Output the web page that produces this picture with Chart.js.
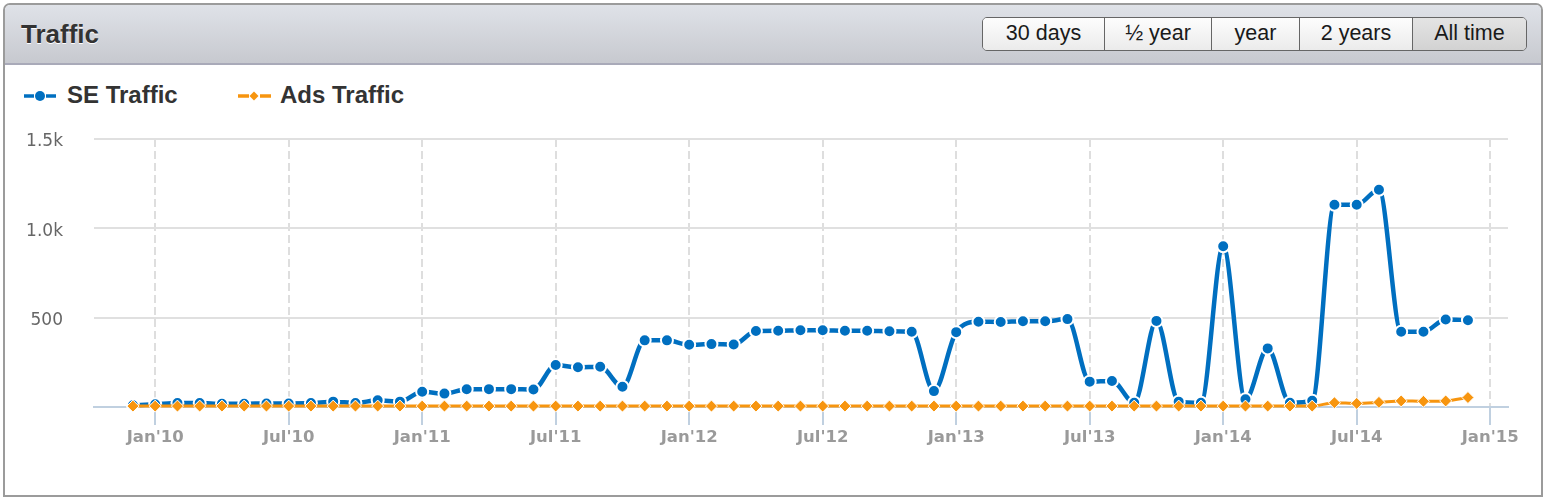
<!DOCTYPE html>
<html>
<head>
<meta charset="utf-8">
<script src="https://cdn.jsdelivr.net/npm/chart.js@4/dist/chart.umd.min.js"></script>
<style>
  html, body { margin: 0; padding: 0; background: #fff; }
  body { width: 1546px; height: 498px; position: relative; overflow: hidden; font-family: "Liberation Sans", Arial, sans-serif; }
  .panel {
    position: absolute; left: 3px; top: 3px; width: 1540px; height: 494px;
    box-sizing: border-box; border: 2px solid #9b9b9b;
    border-radius: 7px 7px 0 0; background: #fff;
  }
  .head {
    position: absolute; left: 0; top: 0; right: 0; height: 58px;
    background: linear-gradient(#dfe2e8, #c7c9cf);
    border-bottom: 2px solid #a9aab9; border-radius: 5px 5px 0 0;
  }
  .title {
    position: absolute; left: 21px; top: 21px; font-size: 26px; line-height: 26px;
    font-weight: bold; color: #333; text-shadow: 0 1px 0 #fff;
  }
  .btns {
    position: absolute; left: 982px; top: 17px; height: 34px; display: flex;
    box-sizing: border-box; border: 1.5px solid #666; border-radius: 5px; overflow: hidden;
  }
  .btns div {
    box-sizing: border-box; height: 100%; text-align: center; font-size: 21.5px; line-height: 31px;
    color: #1a1a1a; background: linear-gradient(#fdfdfd, #ebebeb); border-left: 1.5px solid #666;
  }
  .btns div:first-child { border-left: none; }
  .btns div.on { background: linear-gradient(#e4e4e4, #d2d2d2); }
  .legend { position: absolute; top: 83px; font-size: 24px; line-height: 24px; font-weight: bold; color: #333; }
  .legend svg { position: absolute; top: 7px; }
  canvas { position: absolute; left: 0; top: 0; }
</style>
</head>
<body>
<div class="panel"><div class="head"></div></div>
<div class="title">Traffic</div>
<div class="btns">
  <div style="width:121px">30 days</div>
  <div style="width:107px">½ year</div>
  <div style="width:88px">year</div>
  <div style="width:113px">2 years</div>
  <div class="on" style="width:114px">All time</div>
</div>
<div class="legend" style="left:24px">
  <svg width="34" height="12"><line x1="0" y1="6" x2="10" y2="6" stroke="#006fc0" stroke-width="3.5"/><circle cx="16" cy="6" r="5" fill="#006fc0"/><line x1="22" y1="6" x2="32" y2="6" stroke="#006fc0" stroke-width="3.5"/></svg>
  <span style="margin-left:43px">SE Traffic</span>
</div>
<div class="legend" style="left:238px">
  <svg width="34" height="12"><line x1="0" y1="6" x2="11" y2="6" stroke="#f7950f" stroke-width="3.5"/><polygon points="16,1.5 20.5,6 16,10.5 11.5,6" fill="#f7950f"/><line x1="22" y1="6" x2="33" y2="6" stroke="#f7950f" stroke-width="3.5"/></svg>
  <span style="margin-left:42px">Ads Traffic</span>
</div>
<canvas id="trafficChart" width="1546" height="498"></canvas>

<script>
// monthly points, Dec'09 .. Dec'14
const months = [
  "Dec'09",
  "Jan'10", "Feb'10", "Mar'10", "Apr'10", "May'10", "Jun'10", "Jul'10", "Aug'10", "Sep'10", "Oct'10", "Nov'10", "Dec'10",
  "Jan'11", "Feb'11", "Mar'11", "Apr'11", "May'11", "Jun'11", "Jul'11", "Aug'11", "Sep'11", "Oct'11", "Nov'11", "Dec'11",
  "Jan'12", "Feb'12", "Mar'12", "Apr'12", "May'12", "Jun'12", "Jul'12", "Aug'12", "Sep'12", "Oct'12", "Nov'12", "Dec'12",
  "Jan'13", "Feb'13", "Mar'13", "Apr'13", "May'13", "Jun'13", "Jul'13", "Aug'13", "Sep'13", "Oct'13", "Nov'13", "Dec'13",
  "Jan'14", "Feb'14", "Mar'14", "Apr'14", "May'14", "Jun'14", "Jul'14", "Aug'14", "Sep'14", "Oct'14", "Nov'14", "Dec'14"
];
const seTraffic = [
  10,
  15, 22, 22, 18, 18, 20, 20, 22, 30, 22, 38, 30,
  85, 75, 99, 100, 100, 98, 235, 222, 225, 113, 373, 373,
  348, 352, 350, 425, 427, 430, 430, 427, 427, 424, 421, 89,
  419, 477, 476, 480, 480, 492, 142, 146, 24, 482, 30, 24,
  900, 43, 328, 24, 35, 1132, 1132, 1216, 421, 421, 490, 486
];
const adsTraffic = [
  5,
  5, 5, 5, 5, 5, 5, 5, 5, 5, 5, 5, 5,
  5, 5, 5, 5, 5, 5, 5, 5, 5, 5, 5, 5,
  5, 5, 5, 5, 5, 5, 5, 5, 5, 5, 5, 5,
  5, 5, 5, 5, 5, 5, 5, 5, 5, 5, 5, 5,
  5, 5, 5, 5, 5, 24, 20, 26, 34, 32, 34, 53
];
const xTickLabels = ["Jan'10", "Jul'10", "Jan'11", "Jul'11", "Jan'12", "Jul'12", "Jan'13", "Jul'13", "Jan'14", "Jul'14", "Jan'15"];
const yTickValues = [500, 1000, 1500];
const yTickLabels = ["500", "1.0k", "1.5k"];

const MON = ['Jan', 'Feb', 'Mar', 'Apr', 'May', 'Jun', 'Jul', 'Aug', 'Sep', 'Oct', 'Nov', 'Dec'];
// months since Jan'10
function monthIndex(label) {
  const [m, y] = label.split("'");
  return (2000 + Number(y) - 2010) * 12 + MON.indexOf(m);
}

const blue = '#006fc0';
const orange = '#f7950f';

const ctx = document.getElementById('trafficChart').getContext('2d');
new Chart(ctx, {
  type: 'line',
  data: {
    datasets: [
      {
        label: 'SE Traffic',
        data: months.map((m, i) => ({ x: monthIndex(m), y: seTraffic[i] })),
        borderColor: blue, borderWidth: 4.5,
        pointRadius: 6, pointBackgroundColor: blue, pointBorderColor: '#fff', pointBorderWidth: 2,
        cubicInterpolationMode: 'monotone', clip: false, order: 2
      },
      {
        label: 'Ads Traffic',
        data: months.map((m, i) => ({ x: monthIndex(m), y: adsTraffic[i] })),
        borderColor: orange, borderWidth: 3,
        pointStyle: 'rectRot', pointRadius: 6, pointBackgroundColor: orange, pointBorderColor: '#fff', pointBorderWidth: 1,
        cubicInterpolationMode: 'monotone', clip: false, order: 1
      }
    ]
  },
  options: {
    responsive: false,
    animation: false,
    layout: { padding: { top: 139, right: 38, bottom: 0, left: 0 } },
    plugins: { legend: { display: false }, tooltip: { enabled: false } },
    scales: {
      x: {
        type: 'linear', min: -2.75, max: 60.8,
        afterBuildTicks: s => { s.ticks = xTickLabels.map(l => ({ value: monthIndex(l) })); },
        afterFit: s => { s.height = 91; },
        grid: { color: '#dedede', lineWidth: 2, tickColor: '#c0d0e0', tickWidth: 2, tickLength: 18 },
        border: { color: '#c0d0e0', width: 2, dash: [8, 4] },
        ticks: {
          autoSkip: false, maxRotation: 0, padding: 3, color: '#9a9a9a',
          font: { family: 'DejaVu Sans', size: 16.5, weight: 'bold' },
          callback: v => xTickLabels.find(l => monthIndex(l) === v) || ''
        }
      },
      y: {
        min: 0, max: 1500,
        afterBuildTicks: s => { s.ticks = yTickValues.map(v => ({ value: v })); },
        afterFit: s => { s.width = 94; },
        grid: { color: '#e0e0e0', lineWidth: 2, drawTicks: false },
        border: { display: false },
        ticks: {
          padding: 31, labelOffset: 3, color: '#666',
          font: { family: 'DejaVu Sans', size: 17 },
          callback: v => yTickLabels[yTickValues.indexOf(v)]
        }
      }
    }
  }
});
</script>
</body>
</html>
